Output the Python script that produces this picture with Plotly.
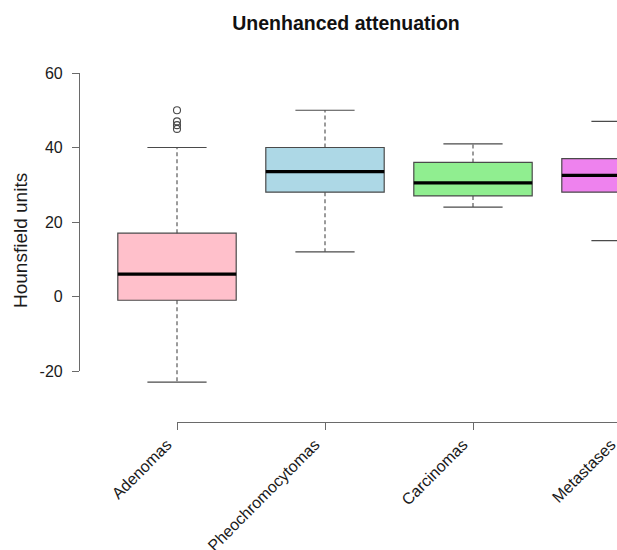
import plotly.graph_objects as go

# ---- data ----
categories = ["Adenomas", "Pheochromocytomas", "Carcinomas", "Metastases"]
q1 = [-1, 28, 27, 28]
median = [6, 33.5, 30.5, 32.5]
q3 = [17, 40, 36, 37]
lower_whisker = [-23, 12, 24, 15]
upper_whisker = [40, 50, 41, 47]
outlier_group = ["Adenomas", "Adenomas", "Adenomas", "Adenomas"]
outlier_values = [45, 46, 47, 50]
box_colors = ["#FFC0CB", "#ADD8E6", "#90EE90", "#EE82EE"]
y_ticks = [-20, 0, 20, 40, 60]
y_tick_labels = ["-20", "0", "20", "40", "60"]

# ---- geometry (layout only) ----
W, H = 700, 550
x1_px, px_per_x = 177, 148.0
zero_px, px_per_y = 296.5, 3.725
box_w = 0.8
staple_half = box_w / 4

positions = list(range(1, len(categories) + 1))
pos_of = dict(zip(categories, positions))

LINE = "#4a4a4a"
AX = "#6a6a6a"
FONT = "Liberation Sans, Arial, Helvetica, sans-serif"

fig = go.Figure()

for i, cat in enumerate(categories):
    fig.add_trace(go.Box(
        x=[positions[i]], q1=[q1[i]], median=[median[i]], q3=[q3[i]],
        lowerfence=[q1[i]], upperfence=[q3[i]],
        width=box_w, fillcolor=box_colors[i],
        line=dict(color=LINE, width=1.2), whiskerwidth=0,
        boxpoints=False, showlegend=False, hoverinfo="skip", name=cat,
    ))

# whiskers (dashed)
wx, wy = [], []
for i, p in enumerate(positions):
    wx += [p, p, None, p, p, None]
    wy += [q3[i], upper_whisker[i], None, q1[i], lower_whisker[i], None]
fig.add_trace(go.Scatter(x=wx, y=wy, mode="lines",
                         line=dict(color=LINE, width=1.1, dash="4px,3px"),
                         showlegend=False, hoverinfo="skip"))

# staples
sx, sy = [], []
for i, p in enumerate(positions):
    sx += [p - staple_half, p + staple_half, None, p - staple_half, p + staple_half, None]
    sy += [upper_whisker[i], upper_whisker[i], None, lower_whisker[i], lower_whisker[i], None]
fig.add_trace(go.Scatter(x=sx, y=sy, mode="lines",
                         line=dict(color=LINE, width=1.2),
                         showlegend=False, hoverinfo="skip"))

# medians
mx, my = [], []
for i, p in enumerate(positions):
    mx += [p - box_w / 2, p + box_w / 2, None]
    my += [median[i], median[i], None]
fig.add_trace(go.Scatter(x=mx, y=my, mode="lines",
                         line=dict(color="black", width=3.2),
                         showlegend=False, hoverinfo="skip"))

# outliers
fig.add_trace(go.Scatter(x=[pos_of[g] for g in outlier_group], y=outlier_values,
                         mode="markers",
                         marker=dict(symbol="circle-open", size=7, color=LINE,
                                     line=dict(width=1.1, color=LINE)),
                         showlegend=False, hoverinfo="skip"))

# dummy trace for display axes
fig.add_trace(go.Scatter(x=[None], y=[None], xaxis="x2", yaxis="y2",
                         showlegend=False, hoverinfo="skip"))

y_top_px = zero_px - max(y_ticks) * px_per_y
y_bot_px = zero_px - min(y_ticks) * px_per_y

fig.update_layout(
    width=W, height=H,
    margin=dict(l=0, r=0, t=0, b=0),
    paper_bgcolor="white", plot_bgcolor="rgba(0,0,0,0)",
    boxmode="overlay",
    font=dict(family=FONT, color="#1a1a1a", size=16),
    title=dict(text="<b>Unenhanced attenuation</b>", x=346 / W, xanchor="center",
               xref="paper", yref="container", y=1 - 23 / H, yanchor="middle",
               font=dict(size=19.5, family=FONT, color="#111")),
    xaxis=dict(domain=[0, 1], range=[1 - x1_px / px_per_x, 1 + (W - x1_px) / px_per_x],
               visible=False, fixedrange=True, automargin=False),
    yaxis=dict(domain=[0, 1], range=[-(H - zero_px) / px_per_y, zero_px / px_per_y],
               visible=False, fixedrange=True, automargin=False),
    xaxis2=dict(domain=[x1_px / W, 1],
                range=[1, 1 + (W - x1_px) / px_per_x],
                anchor="free", position=(H - 422) / H, automargin=False,
                showline=True, linecolor=AX, linewidth=1.2,
                ticks="outside", ticklen=7, tickcolor=AX, tickwidth=1.2,
                tickvals=positions, ticktext=categories, tickangle=-45,
                ticklabelshift=-10, ticklabelstandoff=-1,
                tickfont=dict(size=16, family=FONT, color="#1a1a1a"),
                showgrid=False, zeroline=False, fixedrange=True),
    yaxis2=dict(domain=[(H - y_bot_px) / H, (H - y_top_px) / H],
                range=[min(y_ticks), max(y_ticks)],
                anchor="free", position=79 / W, automargin=False,
                showline=True, linecolor=AX, linewidth=1.2,
                ticks="outside", ticklen=7, tickcolor=AX, tickwidth=1.2,
                tickvals=y_ticks, ticktext=y_tick_labels, ticklabelstandoff=6,
                tickfont=dict(size=16, family=FONT, color="#1a1a1a"),
                showgrid=False, zeroline=False, fixedrange=True),
    annotations=[dict(text="Hounsfield units", textangle=-90, showarrow=False,
                      xref="paper", yref="paper", x=20 / W, y=(H - 241) / H,
                      xanchor="center", yanchor="middle",
                      font=dict(size=19, family=FONT, color="#1a1a1a"))],
)

fig.write_html("out.html", config={"displayModeBar": False},
               post_script="document.body.style.overflow='hidden';document.body.style.margin='0';")
